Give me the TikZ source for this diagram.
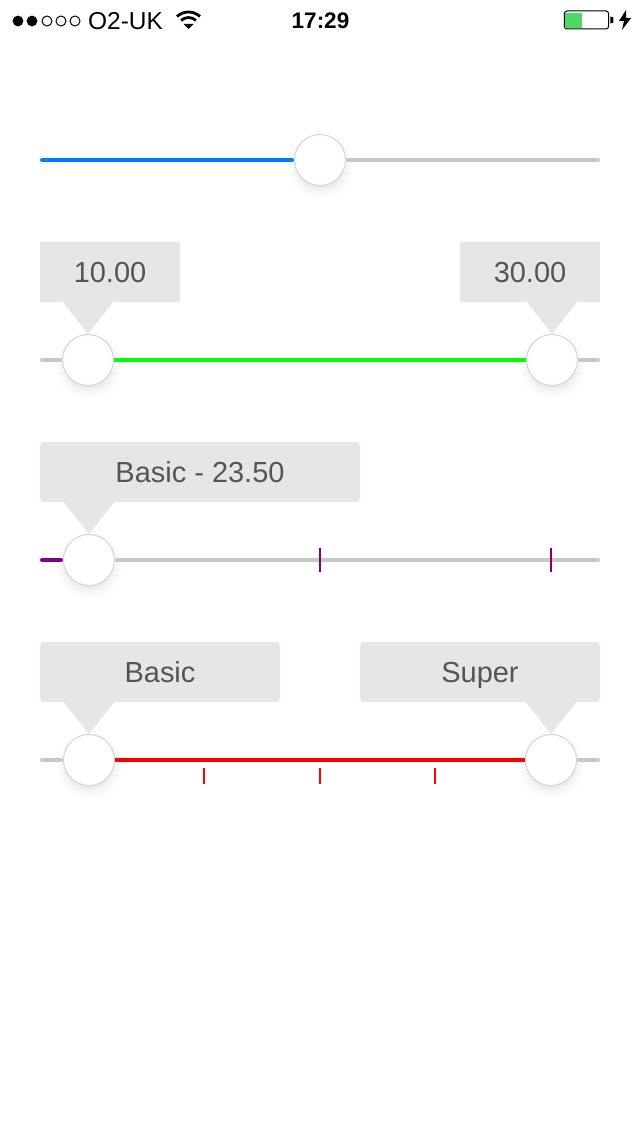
\documentclass[tikz,border=0pt]{standalone}
\usepackage{fontspec}
\usetikzlibrary{calc}
\setmainfont{Liberation Sans}
\definecolor{trackgray}{HTML}{C8C8C8}
\definecolor{bubblegray}{HTML}{E6E6E6}
\definecolor{labelgray}{HTML}{555555}
\definecolor{thumbline}{HTML}{D4D4D4}
\definecolor{iosblue}{HTML}{007AFF}
\definecolor{batterygreen}{HTML}{4CD964}
\definecolor{tickpurple}{HTML}{800080}
\pgfdeclareradialshading{thumbfade}{\pgfpoint{0bp}{0bp}}{color(0bp)=(black!11); color(14bp)=(black!11); color(19bp)=(black!4); color(25bp)=(white); color(50bp)=(white)}
\tikzset{
  track/.style={line width=0.1cm, line cap=round},
  thumb/.style={circle, draw=thumbline, line width=0.025cm, fill=white, minimum size=1.275cm, inner sep=0pt},
  thumbshade/.style={circle, shading=thumbfade, minimum size=1.7cm, inner sep=0pt},
  bubble/.style={fill=bubblegray, minimum height=1.5cm, inner sep=0pt, text=labelgray, text height=0.62cm, text depth=0.1cm, font=\fontsize{20.6}{24}\selectfont},
  ticmark/.style={line width=0.05cm},
  sigon/.style={circle, fill=black, minimum size=0.27cm, inner sep=0pt},
  sigoff/.style={circle, draw=black, line width=0.025cm, minimum size=0.25cm, inner sep=0pt},
  barfont/.style={inner sep=0pt, font=\fontsize{17.4}{20}\selectfont}
}

\begin{document}
\begin{tikzpicture}[x=0.025cm, y=-0.025cm]
\useasboundingbox (0,0) rectangle (640,1136);

% status bar
\node (sig-1) at (18,21) [sigon]{};
\node (sig-2) at (32,21) [sigon]{};
\node (sig-3) at (47,21) [sigoff]{};
\node (sig-4) at (61,21) [sigoff]{};
\node (sig-5) at (75,21) [sigoff]{};
\node (carrier) at (125.5,21) [barfont]{O2-UK};
\node (clock) at (320.5,21) [barfont, font=\fontsize{16}{20}\selectfont\bfseries]{17:29};

\coordinate (wifi) at (188.5,29);
\fill (wifi) -- +(-5,-5) -- +(5,-5) -- cycle;
\draw [line width=0.07cm] ($(wifi)+(-7.5,-8.5)$) .. controls ($(wifi)+(-3,-12.5)$) and ($(wifi)+(3,-12.5)$) .. ($(wifi)+(7.5,-8.5)$);
\draw [line width=0.07cm] ($(wifi)+(-11.5,-12.5)$) .. controls ($(wifi)+(-5,-18.5)$) and ($(wifi)+(5,-18.5)$) .. ($(wifi)+(11.5,-12.5)$);

\node (battery) at (586.5,20) [draw=black, line width=0.025cm, rounded corners=0.07cm, minimum width=1.11cm, minimum height=0.45cm, inner sep=0pt]{};
\node (charge) at (573.5,20.5) [fill=batterygreen, minimum width=0.425cm, minimum height=0.375cm, inner sep=0pt]{};
\fill ([xshift=0.03cm]battery.east) +(0,-3.5) -- +(3,-2.5) -- +(3,2.5) -- +(0,3.5) -- cycle;
\fill (626,10) -- (619,21) -- (624,21) -- (622,30) -- (631,18) -- (626,18) -- cycle;

% soft shadows under the thumbs
\node (A-s) at (320,165) [thumbshade]{};
\node (B-s) at (88,365) [thumbshade]{};
\node (C-s) at (552,365) [thumbshade]{};
\node (D-s) at (89,565) [thumbshade]{};
\node (E-s) at (89,765) [thumbshade]{};
\node (F-s) at (551,765) [thumbshade]{};

% track ends
\coordinate (A-l) at (42,160);
\coordinate (A-r) at (598,160);
\coordinate (B-l) at (42,360);
\coordinate (B-r) at (598,360);
\coordinate (C-l) at (42,560);
\coordinate (C-r) at (598,560);
\coordinate (D-l) at (42,760);
\coordinate (D-r) at (598,760);

% thumbs
\node (A-t) at (320,160) [thumb]{};
\node (B-t) at (88,360) [thumb]{};
\node (B-u) at (552,360) [thumb]{};
\node (C-t) at (89,560) [thumb]{};
\node (D-t) at (89,760) [thumb]{};
\node (D-u) at (551,760) [thumb]{};

\draw [track, trackgray, shorten <=0.05cm] (A-t) -- (A-r);
\draw [track, iosblue, shorten >=0.05cm] (A-l) -- (A-t);

\draw [track, trackgray, shorten >=0.05cm] (B-l) -- (B-t);
\draw [track, trackgray, shorten <=0.05cm] (B-u) -- (B-r);
\draw [line width=0.1cm, green] (B-t) -- (B-u);

\draw [track, trackgray, shorten <=0.05cm] (C-t) -- (C-r);
\draw [track, tickpurple, shorten >=0.05cm] (C-l) -- (C-t);

\draw [track, trackgray, shorten >=0.05cm] (D-l) -- (D-t);
\draw [track, trackgray, shorten <=0.05cm] (D-u) -- (D-r);
\draw [line width=0.1cm, red] (D-t) -- (D-u);

% ticks
\coordinate (C-1a) at (320,548);
\coordinate (C-1b) at (320,572);
\coordinate (C-2a) at (551,548);
\coordinate (C-2b) at (551,572);
\draw [ticmark, tickpurple] (C-1a) -- (C-1b);
\draw [ticmark, tickpurple] (C-2a) -- (C-2b);

\coordinate (D-1a) at (204,768);
\coordinate (D-1b) at (204,784);
\coordinate (D-2a) at (320,768);
\coordinate (D-2b) at (320,784);
\coordinate (D-3a) at (435,768);
\coordinate (D-3b) at (435,784);
\draw [ticmark, red] (D-1a) -- (D-1b);
\draw [ticmark, red] (D-2a) -- (D-2b);
\draw [ticmark, red] (D-3a) -- (D-3b);

% bubbles
\node (B-1) at (110,272) [bubble, minimum width=3.5cm]{10.00};
\node (B-2) at (530,272) [bubble, minimum width=3.5cm]{30.00};
\node (C-1) at (200,472) [bubble, rounded corners=0.08cm, minimum width=8cm]{Basic - 23.50};
\node (D-1) at (160,672) [bubble, rounded corners=0.08cm, minimum width=6cm]{Basic};
\node (D-2) at (480,672) [bubble, rounded corners=0.08cm, minimum width=6cm]{Super};

\fill [bubblegray] (62,301) -- (114,301) -- (B-t.north) -- cycle;
\fill [bubblegray] (526,301) -- (578,301) -- (B-u.north) -- cycle;
\fill [bubblegray] (63,501) -- (115,501) -- (C-t.north) -- cycle;
\fill [bubblegray] (63,701) -- (115,701) -- (D-t.north) -- cycle;
\fill [bubblegray] (525,701) -- (577,701) -- (D-u.north) -- cycle;

\end{tikzpicture}
\end{document}
